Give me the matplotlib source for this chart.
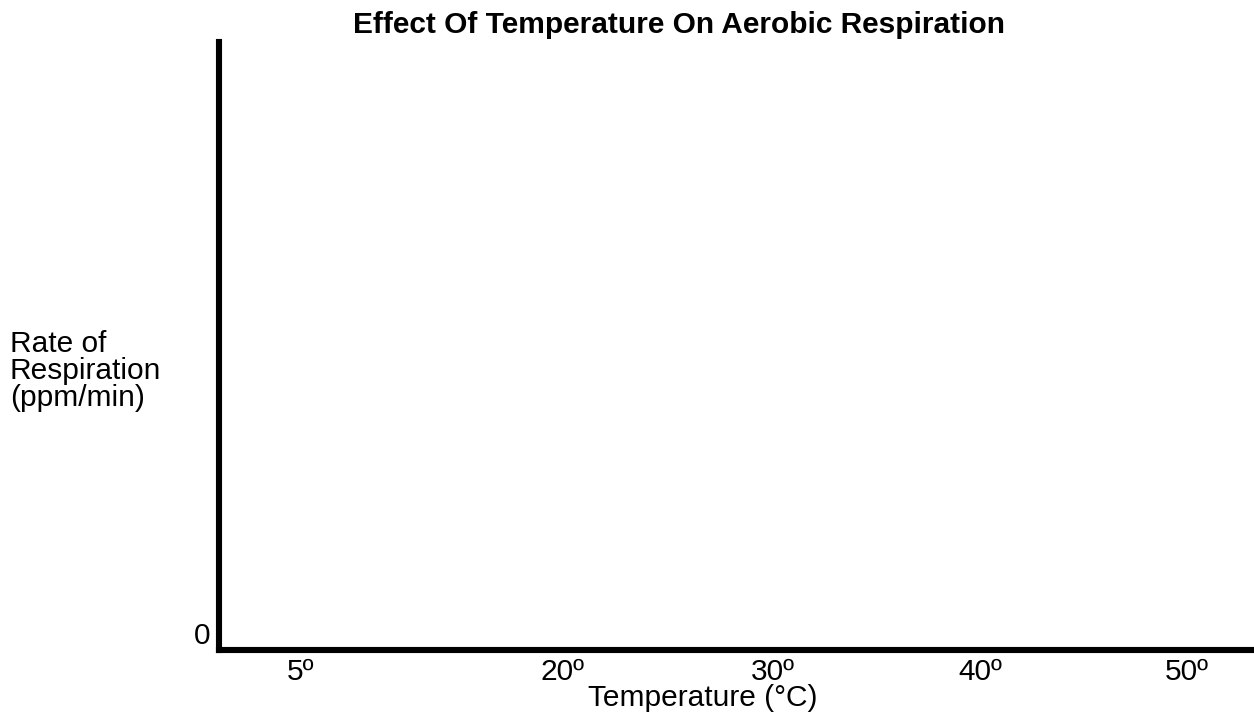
import matplotlib
matplotlib.use('Agg')
import matplotlib.pyplot as plt

plt.rcParams['font.family'] = ['Liberation Sans', 'DejaVu Sans']

# ---- chart text / categories ----
title = 'Effect Of Temperature On Aerobic Respiration'
x_title = 'Temperature (°C)'
y_title = 'Rate of\nRespiration\n(ppm/min)'
temps = ['5º', '20º', '30º', '40º', '50º']
y_ticks = [0]
y_tick_labels = ['0']

# layout (pixel positions of the category labels along the axis)
W, H = 1254, 717
tick_px = [301, 563, 773, 980, 1187]
fs = 21.5

fig = plt.figure(figsize=(W / 100, H / 100), dpi=100)
left, bottom, top = 219, 650, 42
ax = fig.add_axes([left / W, 1 - bottom / H, 1 - left / W, (bottom - top) / H])

ax.set_xlim(left, W)
ax.set_ylim(0, 100)

for s in ['top', 'right']:
    ax.spines[s].set_visible(False)
for s in ['left', 'bottom']:
    ax.spines[s].set_linewidth(4.4)
    ax.spines[s].set_color('black')

ax.set_xticks(tick_px)
ax.set_xticklabels(temps, fontsize=fs)
ax.set_yticks(y_ticks)
ax.set_yticklabels(y_tick_labels, fontsize=fs, va='bottom')
ax.tick_params(axis='x', length=0, pad=6)
ax.tick_params(axis='y', length=0, pad=6.5)

fig.text(679 / W, 1 - 33 / H, title, ha='center', va='baseline',
         fontsize=fs, fontweight='bold')
fig.text(703 / W, 1 - 706 / H, x_title, ha='center', va='baseline', fontsize=fs)
fig.text(10 / W, 1 - 371 / H, y_title, ha='left', va='center', fontsize=fs,
         linespacing=0.95)

fig.savefig('out.png', dpi=100)
